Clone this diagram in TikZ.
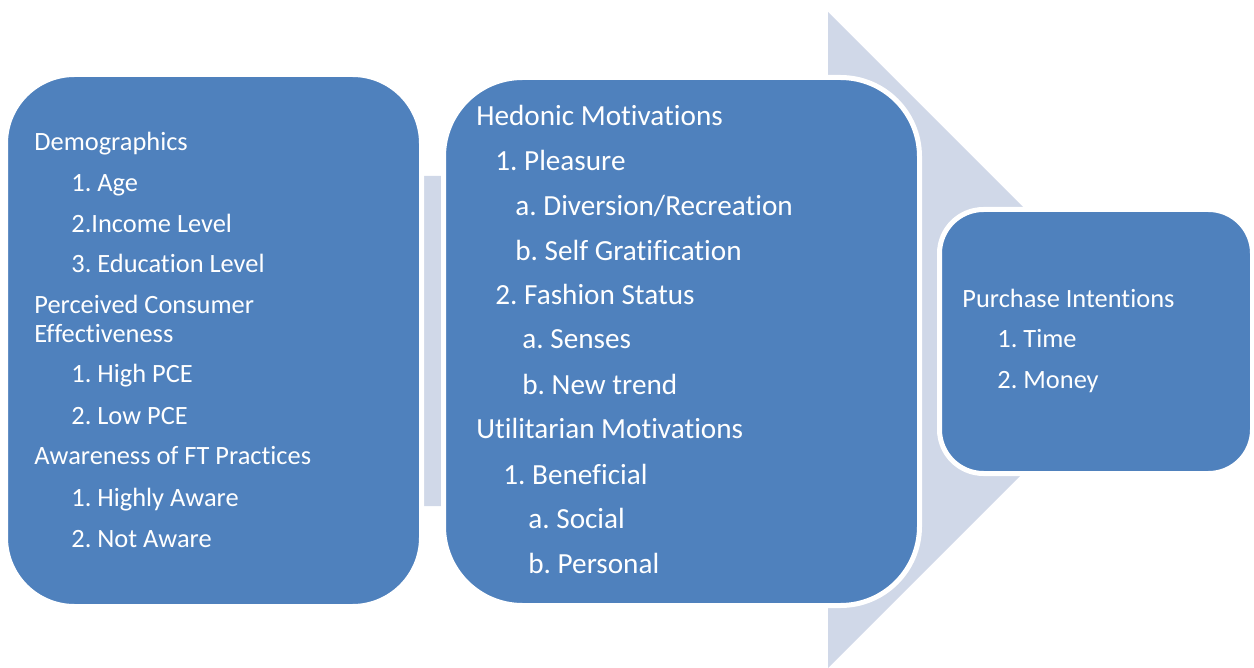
\documentclass[tikz,border=0pt]{standalone}
\usepackage{fontspec}
\setmainfont{Carlito}[Ligatures={NoCommon}]
\frenchspacing
\definecolor{boxblue}{RGB}{79,129,189}
\definecolor{arrowgray}{RGB}{208,216,232}
\begin{document}
\begin{tikzpicture}[x=0.5pt,y=-0.5pt,
  box/.style={draw=white, line width=2.5pt, fill=boxblue, rectangle, inner sep=0pt},
  lbl/.style={text=white, anchor=base west, inner sep=0pt, font=\fontsize{13.2}{16}\selectfont},
  lblb/.style={text=white, anchor=base west, inner sep=0pt, font=\fontsize{14.6}{18}\selectfont}]
\useasboundingbox (0,0) rectangle (1254,668);
% background arrow
\fill[arrowgray] (100,176) -- (828,176) -- (828,12) -- (1156,340) -- (828,668) -- (828,506) -- (100,506) -- cycle;
% boxes
\node[box, rounded corners=34.5pt, minimum width=208pt, minimum height=266pt] (b1) at (213.5,340.5) {};
\node[box, rounded corners=39.5pt, minimum width=238pt, minimum height=264pt] (b2) at (681.5,341.5) {};
\node[box, rounded corners=22pt, minimum width=156.5pt, minimum height=132pt] (b3) at (1096,341.5) {};
% box 1 text
\node[lbl] (a1) at (34,151) {Demographics};
\node[lbl] (a2) at (71,192) {1. Age};
\node[lbl] (a3) at (71,233) {2.Income Level};
\node[lbl] (a4) at (71,273) {3. Education Level};
\node[lbl] (a5) at (34,314) {Perceived Consumer};
\node[lbl] (a6) at (34,343) {Effectiveness};
\node[lbl] (a7) at (71,383) {1. High PCE};
\node[lbl] (a8) at (71,424) {2. Low PCE};
\node[lbl] (a9) at (34,465) {Awareness of FT Practices};
\node[lbl] (a10) at (71,506) {1. Highly Aware};
\node[lbl] (a11) at (71,547) {2. Not Aware};
% box 2 text
\node[lblb] (h1) at (476,126) {Hedonic Motivations};
\node[lblb] (h2) at (495,171) {1. Pleasure};
\node[lblb] (h3) at (515,216) {a. Diversion/Recreation};
\node[lblb] (h4) at (515,261) {b. Self Gratification};
\node[lblb] (h5) at (495,305) {2. Fashion Status};
\node[lblb] (h6) at (522,349) {a. Senses};
\node[lblb] (h7) at (522,394) {b. New trend};
\node[lblb] (h8) at (476,438) {Utilitarian Motivations};
\node[lblb] (h9) at (503,484) {1. Beneficial};
\node[lblb] (h10) at (528,528) {a. Social};
\node[lblb] (h11) at (528,573) {b. Personal};
% box 3 text
\node[lbl] (p1) at (962,308) {Purchase Intentions};
\node[lbl] (p2) at (997,348) {1. Time};
\node[lbl] (p3) at (997,389) {2. Money};
\end{tikzpicture}
\end{document}
